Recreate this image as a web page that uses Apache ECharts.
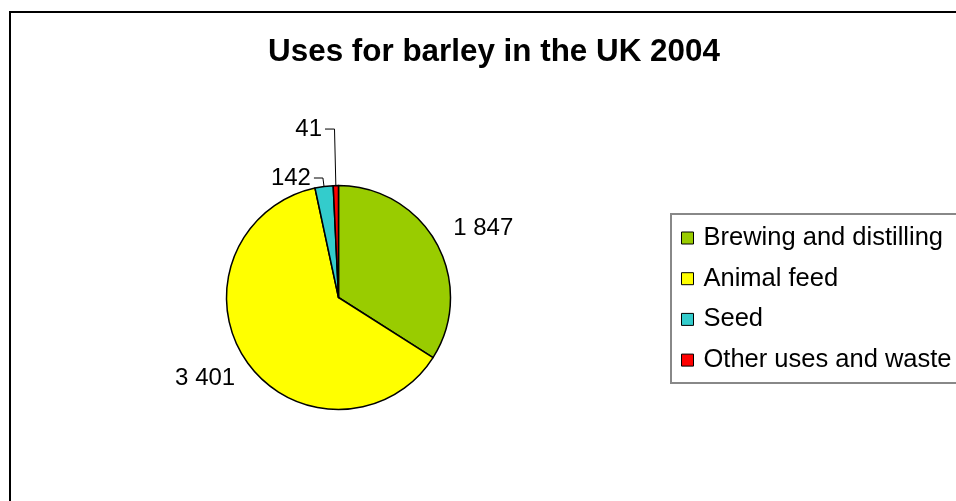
<!DOCTYPE html>
<html>
<head>
<meta charset="utf-8">
<script src="https://cdn.jsdelivr.net/npm/echarts@6/dist/echarts.min.js"></script>
<style>
  html, body { margin: 0; padding: 0; background: #fff; }
  #chart { width: 956px; height: 501px; }
</style>
</head>
<body>
<div id="chart"></div>
<script>
// Barley use categories and tonnages (thousand tonnes)
const categories = ['Brewing and distilling', 'Animal feed', 'Seed', 'Other uses and waste'];
const values = [1847, 3401, 142, 41];
const sliceColors = ['#99CC00', '#FFFF00', '#33CCCC', '#FF0000'];

// Label leader settings per slice: [show line, radial length, horizontal length]
const leaderLines = [[false, 20, 0], [false, 20, 0], [true, 8.5, 9], [true, 56.5, 9.5]];
// Fine shifts for the two large-slice labels
const labelShift = [[-4, -6], [8, 5], [0, 0], [0, 0]];

function spaced(v) {
  return String(v).replace(/\B(?=(\d{3})+(?!\d))/g, ' ');
}

const FONT = '"Liberation Sans", Arial, Helvetica, sans-serif';

const data = categories.map((name, i) => ({
  name: name,
  value: values[i],
  itemStyle: { color: sliceColors[i] },
  labelLine: { show: leaderLines[i][0], length: leaderLines[i][1], length2: leaderLines[i][2] }
}));

const chart = echarts.init(document.getElementById('chart'), null, { renderer: 'canvas' });
chart.setOption({
  backgroundColor: '#ffffff',
  animation: false,
  title: {
    text: 'Uses for barley in the UK 2004',
    left: 494,
    top: 37,
    textAlign: 'center',
    padding: 0,
    textStyle: { fontFamily: FONT, fontSize: 31.4, fontWeight: 'bold', color: '#000' }
  },
  legend: {
    orient: 'vertical',
    left: 671,
    top: 214,
    padding: [11, 20, 10, 10],
    itemWidth: 12,
    itemHeight: 12,
    itemGap: 14.7,
    icon: 'rect',
    borderColor: '#888888',
    borderWidth: 2,
    selectedMode: false,
    itemStyle: { borderColor: '#000', borderWidth: 1 },
    textStyle: { fontFamily: FONT, fontSize: 25.5, lineHeight: 26, color: '#000', padding: [0, 0, 0, 5] },
    data: categories
  },
  graphic: [{
    type: 'rect',
    shape: { x: 10, y: 12, width: 1000, height: 600 },
    style: { fill: 'none', stroke: '#000', lineWidth: 2 },
    silent: true,
    z: 100
  }],
  series: [{
    type: 'pie',
    center: [338.5, 297.5],
    radius: 112,
    startAngle: 90,
    clockwise: true,
    avoidLabelOverlap: false,
    silent: true,
    itemStyle: { borderColor: '#000', borderWidth: 1.5 },
    label: {
      show: true,
      position: 'outside',
      distanceToLabelLine: 3,
      fontFamily: FONT,
      fontSize: 24,
      color: '#000',
      formatter: p => spaced(p.value)
    },
    labelLine: { lineStyle: { color: '#000', width: 1 }, smooth: false },
    labelLayout: p => ({ dx: labelShift[p.dataIndex][0], dy: labelShift[p.dataIndex][1] }),
    emphasis: { disabled: true },
    data: data
  }]
});
</script>
</body>
</html>
